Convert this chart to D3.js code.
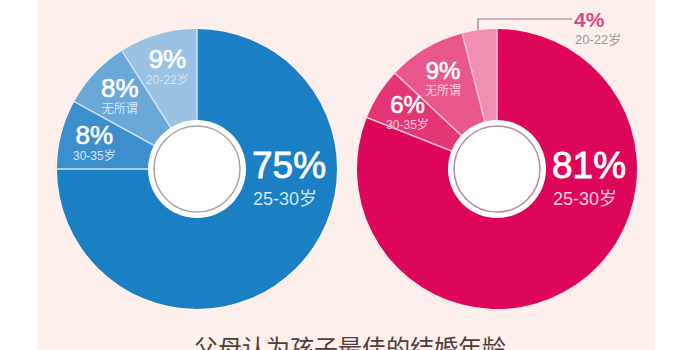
<!DOCTYPE html>
<html>
<head>
<meta charset="utf-8">
<script src="https://cdn.jsdelivr.net/npm/d3@7"></script>
<style>
    body { margin: 0; background: #ffffff; }
    svg { display: block; }
</style>
</head>
<body>
<div id="chart"></div>
<script>
// data
const ageGroups = ["25-30岁", "30-35岁", "无所谓", "20-22岁"];
const leftValues = [75, 8, 8, 9];
const rightValues = [81, 6, 9, 4];
const leftColors = ["#1b7fc4", "#3c8fcc", "#6aa8d8", "#9cc2e3"];
const rightColors = ["#dd0659", "#e43577", "#e9588d", "#f08fb2"];
const titleText = "父母认为孩子最佳的结婚年龄";

function init() {
    w = 700;
    h = 350;

    var svg = d3.select("#chart").append("svg")
                    .attr("width", w)
                    .attr("height", h);

    // pink paper behind the pies
    svg.append("rect")
        .attr("x", 37)
        .attr("y", 0)
        .attr("width", 618)
        .attr("height", h)
        .attr("fill", "#fcefec");

    donut(svg, leftValues, leftColors, 197, 169, {
        sep: "#cfe3f3", ring: "#a6a6a6", sub: "#d3e6f5", big: 26, calloutLast: false
    });
    donut(svg, rightValues, rightColors, 497, 169, {
        sep: "#f7c2d5", ring: "#b78b9c", sub: "#fbd0df", big: 24, calloutLast: true
    });

    // title, cut off by the bottom edge like in the original
    svg.append("text")
        .attr("x", 350)
        .attr("y", 357)
        .attr("text-anchor", "middle")
        .attr("fill", "#4d3f3b")
        .style("font-family", "'Noto Sans CJK SC', sans-serif")
        .style("font-size", "24px")
        .text(titleText);
}

function donut(svg, values, colors, cx, cy, opt) {
    r = 140;
    labelR = 106;

    var g = svg.append("g")
                .attr("transform", `translate(${cx},${cy})`);

    var pie = d3.pie().sort(null).value(function(d) { return d.value; });
    var data = pie(ageGroups.map(function(a, i) {
        return {group: a, value: values[i], color: colors[i]};
    }));

    var arc = d3.arc().innerRadius(0).outerRadius(r);

    g.selectAll("path.slice")
        .data(data)
        .enter()
        .append("path")
        .attr("class", "slice")
        .attr("d", arc)
        .attr("fill", function(d) { return d.data.color; });

    // light separator lines between slices
    g.selectAll("line.sep")
        .data(data)
        .enter()
        .append("line")
        .attr("class", "sep")
        .attr("x1", 0)
        .attr("y1", 0)
        .attr("x2", function(d) { return r * Math.sin(d.startAngle); })
        .attr("y2", function(d) { return -r * Math.cos(d.startAngle); })
        .attr("stroke", opt.sep)
        .attr("stroke-width", 1.5);

    // white hole with thin ring
    g.append("circle").attr("r", 49).attr("fill", "#ffffff");
    g.append("circle").attr("r", 43)
        .attr("fill", "#ffffff")
        .attr("stroke", opt.ring)
        .attr("stroke-width", 1.5);

    var font = "'Liberation Sans', 'Noto Sans CJK SC', sans-serif";

    // main slice label to the right of the hole
    var main = data[0];
    g.append("text")
        .attr("x", 55)
        .attr("y", 9)
        .attr("fill", "#ffffff")
        .attr("stroke", "#ffffff")
        .attr("stroke-width", 0.8)
        .style("font-family", font)
        .style("font-size", "37px")
        .text(main.data.value + "%");
    g.append("text")
        .attr("x", 56)
        .attr("y", 36)
        .attr("fill", opt.sub)
        .style("font-family", font)
        .style("font-size", "18px")
        .text(main.data.group);

    // small slice labels
    data.slice(1).forEach(function(d, i) {
        var last = (i == data.length - 2);
        if (last && opt.calloutLast) {
            // leader line out of the top of the slice
            var x0 = -19;
            g.append("path")
                .attr("d", `M${x0},${-r + 1}V${-r - 10}H${75}`)
                .attr("fill", "none")
                .attr("stroke", "#8f7f86")
                .attr("stroke-width", 1.2);
            g.append("text")
                .attr("x", 77)
                .attr("y", -r - 2)
                .attr("fill", "#d84a83")
                .style("font-family", font)
                .style("font-weight", "bold")
                .style("font-size", "21px")
                .text(d.data.value + "%");
            g.append("text")
                .attr("x", 78)
                .attr("y", -r + 15)
                .attr("fill", "#a3959b")
                .style("font-family", font)
                .style("font-size", "13px")
                .text(d.data.group);
            return;
        }
        var c = d3.arc().innerRadius(labelR).outerRadius(labelR).centroid(d);
        g.append("text")
            .attr("x", c[0])
            .attr("y", c[1] + 1)
            .attr("text-anchor", "middle")
            .attr("fill", "#ffffff")
            .attr("stroke", "#ffffff")
            .attr("stroke-width", 0.6)
            .style("font-family", font)
            .style("font-size", opt.big + "px")
            .text(d.data.value + "%");
        g.append("text")
            .attr("x", c[0])
            .attr("y", c[1] + 17)
            .attr("text-anchor", "middle")
            .attr("fill", opt.sub)
            .style("font-family", font)
            .style("font-size", "12px")
            .text(d.data.group);
    });
}

window.onload = init();
</script>
</body>
</html>
